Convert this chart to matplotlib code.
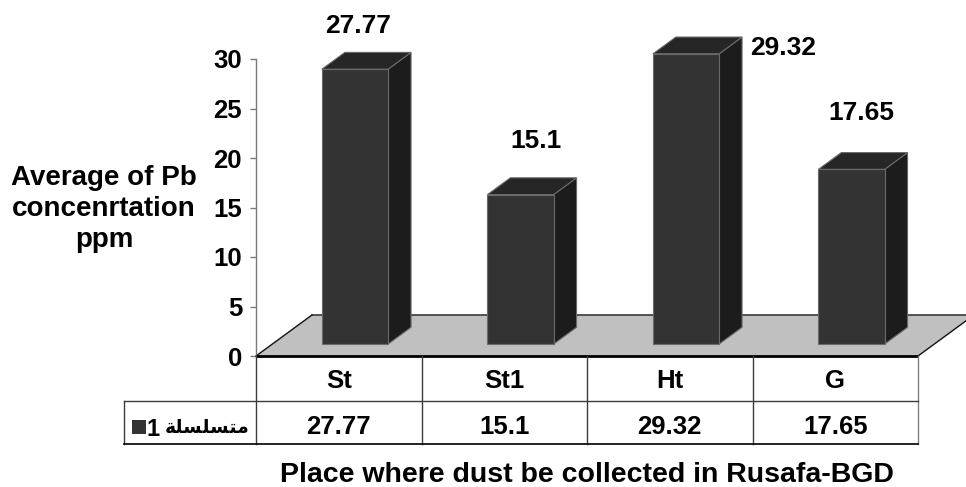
import matplotlib
matplotlib.use("Agg")
import matplotlib.pyplot as plt
from matplotlib.patches import Polygon, Rectangle
from matplotlib.lines import Line2D
from matplotlib.transforms import blended_transform_factory

# ---- data -------------------------------------------------------------
categories = ["St", "St1", "Ht", "G"]
pb_values = [27.77, 15.1, 29.32, 17.65]
value_labels = ["27.77", "15.1", "29.32", "17.65"]
y_ticks = [0, 5, 10, 15, 20, 25, 30]
series_name = "متسلسلة1"
y_title = "Average of Pb\nconcenrtation\nppm"
x_title = "Place where dust be collected in Rusafa-BGD"

# ---- minimal Arabic shaping (matplotlib has no bidi / joining) -------
FORMS = {  # isolated, final, initial, medial
    "م": ("\uFEE1", "\uFEE2", "\uFEE3", "\uFEE4"),
    "ت": ("\uFE95", "\uFE96", "\uFE97", "\uFE98"),
    "س": ("\uFEB1", "\uFEB2", "\uFEB3", "\uFEB4"),
    "ل": ("\uFEDD", "\uFEDE", "\uFEDF", "\uFEE0"),
    "ة": ("\uFE93", "\uFE94", "\uFE93", "\uFE94"),
}
RIGHT_JOIN_ONLY = set("ةاأإآدذرزو")


def shape_arabic(word):
    """Return the word in visual (left-to-right) order with joined glyph forms."""
    out = []
    for k, ch in enumerate(word):
        prev = word[k - 1] if k > 0 else None
        nxt = word[k + 1] if k + 1 < len(word) else None
        jp = prev in FORMS and prev not in RIGHT_JOIN_ONLY
        jn = nxt in FORMS and ch not in RIGHT_JOIN_ONLY
        iso, fin, ini, med = FORMS[ch]
        out.append(med if (jp and jn) else fin if jp else ini if jn else iso)
    return "".join(reversed(out))


# ---- figure / plot area -------------------------------------------------
W, H = 966, 487
fig = plt.figure(figsize=(W / 100, H / 100), dpi=100)
fig.patch.set_facecolor("white")


def fx(px):
    return px / W


def fy(py):
    return 1 - py / H


FONT = ["Liberation Sans", "DejaVu Sans"]
FS_TICK = 18.5
FS_NUM = 19
FS_CELL = 18.5
FS_TITLE = 20.5

X0, X1 = 256, 918      # front edge of the floor
Y0, Y30 = 356, 59      # value 0 and value 30
ax = fig.add_axes([fx(X0), fy(Y0), fx(X1) - fx(X0), fy(Y30) - fy(Y0)])
n = len(categories)
ax.set_xlim(0, n)
ax.set_ylim(0, 30)
ax.set_facecolor("none")

# oblique depth vector of the floor, in data units
ddx = 56 / ((X1 - X0) / n)
ddy = 41 / ((Y0 - Y30) / 30)

# floor
floor = Polygon([(0, 0), (n, 0), (n + ddx, ddy), (ddx, ddy)], closed=True,
                facecolor="#C0C0C0", edgecolor="none", clip_on=False, zorder=1)
ax.add_patch(floor)
ax.plot([ddx, n + ddx], [ddy, ddy], color="#3a3a3a", lw=1.2, clip_on=False, zorder=2)
ax.plot([0, ddx], [0, ddy], color="#111111", lw=1.0, clip_on=False, zorder=2)
ax.plot([n, n + ddx], [0, ddy], color="#111111", lw=1.0, clip_on=False, zorder=2)

# 3-D columns
bar_w = 0.4
d0, d1 = 0.29, 0.70
ox, oy = (d1 - d0) * ddx, (d1 - d0) * ddy
edge = dict(edgecolor="#6a6a6a", linewidth=0.8, clip_on=False, zorder=3)
front_tops = []
for i, v in enumerate(pb_values):
    x0 = i + (1 - bar_w) / 2 + d0 * ddx
    y0 = d0 * ddy
    ax.add_patch(Polygon([(x0 + bar_w, y0), (x0 + bar_w + ox, y0 + oy),
                          (x0 + bar_w + ox, y0 + oy + v), (x0 + bar_w, y0 + v)],
                         facecolor="#1c1c1c", **edge))
    ax.add_patch(Polygon([(x0, y0 + v), (x0 + bar_w, y0 + v),
                          (x0 + bar_w + ox, y0 + v + oy), (x0 + ox, y0 + v + oy)],
                         facecolor="#262626", **edge))
    ax.add_patch(Rectangle((x0, y0), bar_w, v, facecolor="#333333", **edge))
    front_tops.append((x0 + bar_w / 2, y0 + v))

# value labels above the columns (pixel nudges from the front-top centre)
label_nudge = [(3, 36, "center"), (16, 47, "center"), (64, -1, "left"), (10, 49, "center")]
for (xt, yt), txt, (dxp, dyp, ha) in zip(front_tops, value_labels, label_nudge):
    ax.annotate(txt, (xt, yt), xytext=(dxp, dyp), textcoords="offset pixels",
                ha=ha, va="baseline", fontsize=FS_NUM, fontweight="bold",
                family=FONT, annotation_clip=False, zorder=5)

# front edge of the floor
ax.plot([0, n], [0, 0], color="black", lw=2.0, clip_on=False, zorder=4, solid_capstyle="butt")

# y axis
for s in ("top", "right", "bottom"):
    ax.spines[s].set_visible(False)
ax.spines["left"].set_color("#7a7a7a")
ax.spines["left"].set_linewidth(1.0)
ax.set_xticks([])
ax.set_yticks(y_ticks)
ax.set_yticklabels([str(t) for t in y_ticks])
ax.tick_params(axis="y", direction="out", length=4, width=1, color="#7a7a7a",
               pad=6, labelsize=FS_TICK)
for lab in ax.get_yticklabels():
    lab.set_fontweight("bold")
    lab.set_family(FONT)

# ---- data table under the floor -----------------------------------------
bt = blended_transform_factory(ax.transData, fig.transFigure)
R0, R1, R2 = 356, 401, 444    # table row borders (pixels from top)
LEG_X = 124
grid_c = "#3c3c3c"
for i in range(1, n):
    fig.add_artist(Line2D([i, i], [fy(R0), fy(R2)], transform=bt, color=grid_c, lw=1))
fig.add_artist(Line2D([0, 0], [fy(R0), fy(R2)], transform=bt, color=grid_c, lw=1))
fig.add_artist(Line2D([n, n], [fy(R0), fy(R2)], transform=bt, color="#808080", lw=1))
fig.add_artist(Line2D([fx(LEG_X), fx(LEG_X)], [fy(R1), fy(R2)], color=grid_c, lw=1))
fig.add_artist(Line2D([fx(LEG_X), fx(X1)], [fy(R1), fy(R1)], color=grid_c, lw=1))
fig.add_artist(Line2D([fx(LEG_X), fx(X1)], [fy(R2), fy(R2)], color="black", lw=1.2))

for i, (cat, txt) in enumerate(zip(categories, value_labels)):
    fig.text(i + 0.5, fy(388), cat, transform=bt, ha="center", va="baseline",
             fontsize=FS_CELL, fontweight="bold", family=FONT)
    fig.text(i + 0.5, fy(434), txt, transform=bt, ha="center", va="baseline",
             fontsize=FS_CELL, fontweight="bold", family=FONT)

# legend key in the row header: key square, then the series name (RTL word + digit)
fig.add_artist(Rectangle((fx(132), fy(434)), fx(146) - fx(132), fy(420) - fy(434),
                         transform=fig.transFigure, facecolor="#333333", edgecolor="none"))
name_word = series_name.rstrip("0123456789")
name_digits = series_name[len(name_word):]
fig.text(fx(249), fy(433), shape_arabic(name_word), ha="right", va="baseline",
         fontsize=13.5, fontweight="bold", family=["DejaVu Sans"])
fig.text(fx(147), fy(436), name_digits, ha="left", va="baseline",
         fontsize=17, fontweight="bold", family=FONT)

# axis titles
fig.text(fx(104), fy(209), y_title, ha="center", va="center", multialignment="center",
         fontsize=20, fontweight="bold", family=FONT, linespacing=1.27)
fig.text(n / 2, fy(482), x_title, transform=bt, ha="center", va="baseline",
         fontsize=FS_TITLE, fontweight="bold", family=FONT)

fig.savefig("out.png", dpi=100)
